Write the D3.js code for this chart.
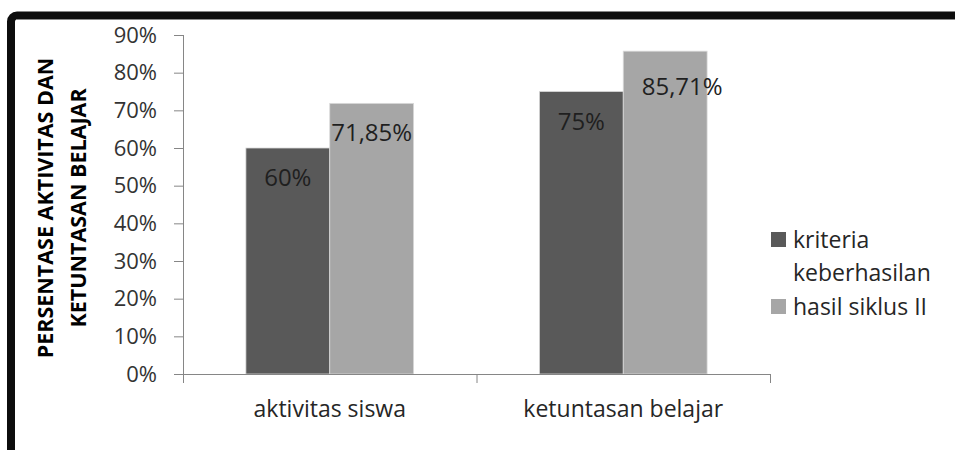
<!DOCTYPE html>
<html>
<head>
<meta charset="utf-8">
<script src="https://cdn.jsdelivr.net/npm/d3@7"></script>
<style>
  body { margin: 0; background: #fff; }
  text { font-family: "Open Sans", sans-serif; }
</style>
</head>
<body>
<div id="chart"></div>
<script>
// data
const categories = ["aktivitas siswa", "ketuntasan belajar"];
const seriesNames = ["kriteria keberhasilan", "hasil siklus II"];
const kriteria = [0.60, 0.75];
const hasilSiklus = [0.7185, 0.8571];
const yTicks = [0, 0.1, 0.2, 0.3, 0.4, 0.5, 0.6, 0.7, 0.8, 0.9];
const titleLines = ["PERSENTASE AKTIVITAS DAN", "KETUNTASAN BELAJAR"];

const seriesValues = [kriteria, hasilSiklus];
const colors = ["#595959", "#a6a6a6"];

const W = 955, H = 450;
const plot = {left: 183, right: 770, top: 35, bottom: 374};

const svg = d3.select("#chart")
  .append("svg")
  .attr("width", W)
  .attr("height", H);

// frame (top and left edge only visible)
svg.append("rect")
  .attr("x", 11).attr("y", 15.5)
  .attr("width", W + 40).attr("height", H + 40)
  .attr("rx", 6)
  .attr("fill", "none")
  .attr("stroke", "#0d0d0d")
  .attr("stroke-width", 8);
svg.append("line")
  .attr("x1", 16).attr("x2", W)
  .attr("y1", 19.5).attr("y2", 19.5)
  .attr("stroke", "#8a8a8a")
  .attr("stroke-width", 1);

// scales
const y = d3.scaleLinear()
  .domain([0, 0.9])
  .range([plot.bottom, plot.top]);

const x = d3.scaleBand()
  .domain(categories)
  .range([plot.left, plot.right])
  .paddingInner(0.4286)
  .paddingOuter(0.2143);

const xs = d3.scaleBand()
  .domain(d3.range(seriesNames.length))
  .range([0, x.bandwidth()]);

const fmtPct = d3.format(".0%");
const fmtLabel = v => {
  const s = (v * 100).toFixed(2).replace(/\.?0+$/, "");
  return s.replace(".", ",") + "%";
};

// y axis
const yAxis = svg.append("g")
  .attr("transform", `translate(${plot.left},0)`)
  .call(d3.axisLeft(y).tickValues(yTicks).tickFormat(fmtPct).tickSize(9).tickPadding(17).tickSizeOuter(0));
yAxis.select(".domain").remove();
yAxis.selectAll(".tick line").attr("stroke", "#868686");
yAxis.selectAll(".tick text")
  .attr("fill", "#333")
  .style("font-size", "22px");
svg.append("line")
  .attr("x1", plot.left + 0.5).attr("x2", plot.left + 0.5)
  .attr("y1", y(0.9)).attr("y2", plot.bottom + 9)
  .attr("stroke", "#868686");

// bars
const groups = svg.selectAll(".grp")
  .data(categories)
  .join("g")
  .attr("class", "grp")
  .attr("transform", d => `translate(${x(d)},0)`);

groups.selectAll("rect")
  .data((c, i) => seriesValues.map((s, k) => ({k, v: s[i]})))
  .join("rect")
  .attr("x", d => xs(d.k))
  .attr("y", d => y(d.v))
  .attr("width", xs.bandwidth())
  .attr("height", d => y(0) - y(d.v))
  .attr("fill", d => colors[d.k])
  .attr("stroke", "#d9d9d9")
  .attr("stroke-width", 0.8);

// data labels (the 85,71% one sits a bit off-centre in the original)
const nudge = {"1-1": [17, 6]};
groups.each(function(c, i) {
  d3.select(this).selectAll(".lbl")
    .data(seriesValues.map((s, k) => ({k, v: s[i], key: `${i}-${k}`})))
    .join("text")
    .attr("class", "lbl")
    .attr("x", d => xs(d.k) + xs.bandwidth() / 2 + (nudge[d.key] ? nudge[d.key][0] : 0))
    .attr("y", d => y(d.v) + 38 + (nudge[d.key] ? nudge[d.key][1] : 0))
    .attr("text-anchor", "middle")
    .attr("fill", "#1f1f1f")
    .style("font-size", "24px")
    .text(d => fmtLabel(d.v));
});

// x axis
svg.append("line")
  .attr("x1", plot.left - 9).attr("x2", plot.right)
  .attr("y1", plot.bottom + 0.5).attr("y2", plot.bottom + 0.5)
  .attr("stroke", "#868686");
const bounds = d3.range(categories.length + 1).map(i => plot.left + i * x.step());
svg.selectAll(".xtick")
  .data(bounds)
  .join("line")
  .attr("class", "xtick")
  .attr("x1", d => d + 0.5).attr("x2", d => d + 0.5)
  .attr("y1", plot.bottom).attr("y2", plot.bottom + 9)
  .attr("stroke", "#868686");
const xAxis = svg.append("g")
  .attr("transform", `translate(0,${plot.bottom})`)
  .call(d3.axisBottom(x).tickSize(0).tickPadding(27));
xAxis.select(".domain").remove();
xAxis.selectAll(".tick text")
  .attr("fill", "#262626")
  .style("font-size", "23px");

// y axis title
const title = svg.append("text")
  .attr("transform", "translate(0,208) rotate(-90)")
  .attr("text-anchor", "middle")
  .attr("fill", "#000")
  .style("font-size", "21.5px")
  .style("font-weight", "bold");
title.selectAll("tspan")
  .data(titleLines)
  .join("tspan")
  .attr("x", 0)
  .attr("y", (d, i) => 53 + i * 33)
  .text(d => d);

// legend
const legend = svg.append("g").attr("transform", "translate(771,0)");
const legendRows = [["kriteria", "keberhasilan"], ["hasil siklus II"]];
const legendBase = [248, 315];
legendRows.forEach((lines, k) => {
  legend.append("rect")
    .attr("x", 0).attr("y", legendBase[k] - 16)
    .attr("width", 15).attr("height", 15)
    .attr("fill", colors[k]);
  const t = legend.append("text")
    .attr("fill", "#262626")
    .style("font-size", "23px");
  t.selectAll("tspan")
    .data(lines)
    .join("tspan")
    .attr("x", 22)
    .attr("y", (d, i) => legendBase[k] + i * 33)
    .text(d => d);
});
</script>
</body>
</html>
